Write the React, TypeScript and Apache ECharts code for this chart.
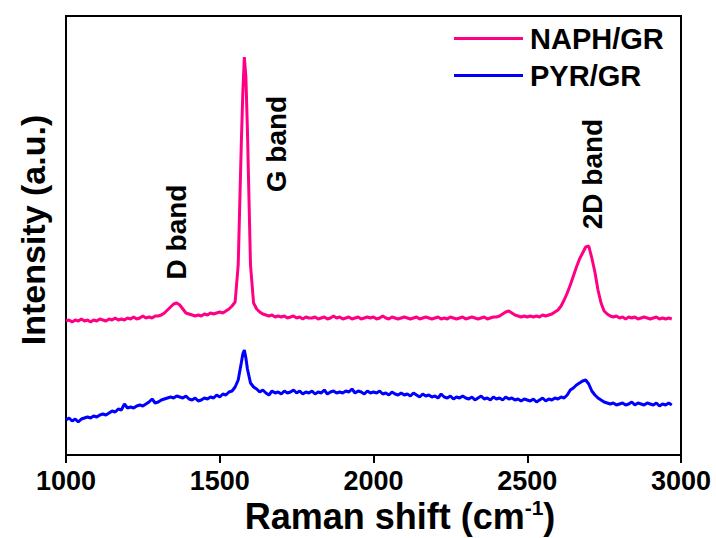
import React, { useEffect, useRef } from "react";
import * as echarts from "echarts";

// Raman shift sample positions (cm^-1)
const ramanShift: number[] = [
  1000, 1010, 1020, 1030, 1040, 1050, 1060, 1070, 1080, 1090,
  1100, 1110, 1120, 1130, 1140, 1150, 1160, 1170, 1180, 1190,
  1200, 1210, 1220, 1230, 1240, 1250, 1260, 1270, 1280, 1290,
  1300, 1310, 1320, 1330, 1340, 1350, 1360, 1370, 1380, 1390,
  1400, 1410, 1420, 1430, 1440, 1450, 1460, 1470, 1480, 1490,
  1500, 1510, 1520, 1530, 1540, 1550, 1560, 1570, 1575, 1580, 1585, 1590,
  1600, 1610, 1620, 1630, 1640, 1650, 1660, 1670, 1680, 1690,
  1700, 1710, 1720, 1730, 1740, 1750, 1760, 1770, 1780, 1790,
  1800, 1810, 1820, 1830, 1840, 1850, 1860, 1870, 1880, 1890,
  1900, 1910, 1920, 1930, 1940, 1950, 1960, 1970, 1980, 1990,
  2000, 2010, 2020, 2030, 2040, 2050, 2060, 2070, 2080, 2090,
  2100, 2110, 2120, 2130, 2140, 2150, 2160, 2170, 2180, 2190,
  2200, 2210, 2220, 2230, 2240, 2250, 2260, 2270, 2280, 2290,
  2300, 2310, 2320, 2330, 2340, 2350, 2360, 2370, 2380, 2390,
  2400, 2410, 2420, 2430, 2440, 2450, 2460, 2470, 2480, 2490,
  2500, 2510, 2520, 2530, 2540, 2550, 2560, 2570, 2580, 2590,
  2600, 2610, 2620, 2630, 2640, 2650, 2660, 2670, 2680, 2690,
  2700, 2710, 2720, 2730, 2740, 2750, 2760, 2770, 2780, 2790,
  2800, 2810, 2820, 2830, 2840, 2850, 2860, 2870, 2880, 2890,
  2900, 2910, 2920, 2930, 2940, 2950, 2960, 2970,
];

// NAPH/GR intensity (a.u.)
const naphGr: number[] = [
  134, 135, 133, 135, 134, 136, 134, 135, 133, 135,
  134, 136, 135, 134, 136, 135, 137, 135, 136, 135,
  137, 136, 138, 136, 137, 139, 137, 138, 137, 139,
  139, 140, 142, 145, 148, 151, 152, 150, 146, 142,
  141, 140, 139, 140, 139, 141, 140, 142, 141, 142,
  143, 142, 144, 146, 149, 153, 190, 310, 362, 398, 378, 325,
  190, 152, 146, 143, 141, 140, 139, 140, 138, 139,
  138, 139, 137, 138, 139, 137, 138, 136, 138, 137,
  137, 138, 136, 137, 138, 136, 137, 139, 137, 138,
  136, 137, 138, 136, 137, 138, 136, 137, 138, 137,
  138, 136, 137, 139, 137, 136, 138, 137, 136, 137,
  138, 137, 136, 137, 138, 136, 137, 138, 137, 136,
  137, 138, 136, 137, 136, 138, 137, 136, 137, 138,
  136, 137, 138, 137, 136, 137, 138, 136, 137, 138,
  138, 139, 141, 143, 144, 142, 140, 139, 138, 139,
  138, 139, 138, 139, 138, 140, 139, 140, 141, 143,
  145, 149, 155, 162, 170, 179, 188, 196, 202, 208,
  209, 197, 183, 165, 152, 144, 141, 139, 138, 139,
  137, 138, 136, 138, 137, 138, 136, 137, 138, 137,
  136, 137, 138, 136, 137, 136, 137, 136,
];

// PYR/GR intensity (a.u.)
const pyrGr: number[] = [
  35, 37, 34, 36, 33, 36, 37, 38, 37, 39,
  38, 40, 41, 40, 42, 44, 43, 46, 45, 51,
  47, 48, 47, 49, 50, 49, 51, 53, 56, 52,
  53, 55, 56, 57, 58, 57, 59, 58, 57, 59,
  56, 55, 57, 54, 55, 57, 56, 58, 57, 60,
  58, 61, 60, 63, 64, 68, 75, 92, 101, 105, 97, 86,
  72, 68, 66, 63, 65, 62, 60, 64, 62, 63,
  61, 64, 62, 63, 65, 62, 64, 61, 63, 62,
  64, 61, 63, 62, 65, 61, 63, 64, 62, 63,
  62, 64, 63, 66, 62, 64, 63, 61, 64, 62,
  63, 62, 64, 61, 62, 60, 63, 61, 60, 62,
  60, 61, 59, 62, 60, 58, 61, 59, 60, 58,
  59, 57, 61, 58, 57, 59, 56, 58, 57, 59,
  57, 56, 58, 55, 57, 59, 56, 57, 55, 58,
  56, 57, 55, 58, 56, 57, 55, 56, 54, 56,
  55, 54, 56, 53, 55, 57, 54, 56, 55, 57,
  56, 58, 57, 60, 65, 67, 70, 72, 74, 75,
  71, 64, 60, 57, 55, 53, 52, 51, 52, 50,
  51, 52, 50, 51, 53, 50, 52, 51, 50, 52,
  51, 50, 52, 49, 51, 50, 52, 50,
];

const seriesNames = ["NAPH/GR", "PYR/GR"];
const seriesColors = ["#ff0084", "#0000ff"];
const bandLabels = ["D band", "G band", "2D band"];

const FONT = "'Liberation Sans', Arial, Helvetica, sans-serif";

export default function App() {
  const ref = useRef<HTMLDivElement>(null);

  useEffect(() => {
    if (!ref.current) return;
    const chart = echarts.init(ref.current, undefined, { renderer: "svg" });
    const pairs = (ys: number[]) => ramanShift.map((x, i) => [x, ys[i]]);

    chart.setOption({
      animation: false,
      backgroundColor: "#ffffff",
      grid: {
        left: 66,
        right: 35,
        top: 16,
        bottom: 83,
        show: true,
        borderColor: "#000",
        borderWidth: 2,
        backgroundColor: "transparent",
      },
      legend: {
        orient: "vertical",
        left: 449,
        top: 19,
        itemWidth: 69,
        itemHeight: 3,
        itemGap: 8,
        icon: "rect",
        data: seriesNames,
        textStyle: {
          fontFamily: FONT,
          fontWeight: "bold",
          fontSize: 29,
          color: "#000",
          padding: [0, 0, 0, 2],
        },
      },
      xAxis: {
        type: "value",
        min: 1000,
        max: 3000,
        interval: 500,
        axisLine: { show: true, lineStyle: { color: "#000", width: 2 } },
        axisTick: { show: true, length: 8, inside: false, lineStyle: { color: "#000", width: 2 } },
        splitLine: { show: false },
        axisLabel: {
          color: "#000",
          fontFamily: FONT,
          fontWeight: "bold",
          fontSize: 27,
          margin: 12,
          formatter: (v: number) => String(v),
        },
      },
      yAxis: {
        type: "value",
        min: 0,
        max: 439,
        axisLine: { show: true, lineStyle: { color: "#000", width: 2 } },
        axisTick: { show: false },
        axisLabel: { show: false },
        splitLine: { show: false },
      },
      series: [
        {
          name: seriesNames[0],
          type: "line",
          data: pairs(naphGr),
          symbol: "none",
          color: seriesColors[0],
          lineStyle: { color: seriesColors[0], width: 3 },
        },
        {
          name: seriesNames[1],
          type: "line",
          data: pairs(pyrGr),
          symbol: "none",
          color: seriesColors[1],
          lineStyle: { color: seriesColors[1], width: 3 },
        },
      ],
      graphic: [
        {
          type: "text",
          x: 33,
          y: 230,
          rotation: Math.PI / 2,
          style: {
            text: "Intensity (a.u.)",
            fill: "#000",
            fontFamily: FONT,
            fontWeight: "bold",
            fontSize: 34,
            align: "center",
            verticalAlign: "middle",
          },
        },
        {
          type: "text",
          x: 400,
          y: 516,
          style: {
            text: "{a|Raman shift (cm}{b|-1}{a|)}",
            fill: "#000",
            align: "center",
            verticalAlign: "middle",
            rich: {
              a: { fontFamily: FONT, fontWeight: "bold", fontSize: 36, fill: "#000", lineHeight: 38 },
              b: { fontFamily: FONT, fontWeight: "bold", fontSize: 21, fill: "#000", verticalAlign: "top", lineHeight: 38 },
            },
          },
        },
        {
          type: "text",
          x: 176,
          y: 232,
          rotation: Math.PI / 2,
          style: {
            text: bandLabels[0],
            fill: "#000",
            fontFamily: FONT,
            fontWeight: "bold",
            fontSize: 28,
            align: "center",
            verticalAlign: "middle",
          },
        },
        {
          type: "text",
          x: 276,
          y: 144,
          rotation: Math.PI / 2,
          style: {
            text: bandLabels[1],
            fill: "#000",
            fontFamily: FONT,
            fontWeight: "bold",
            fontSize: 28,
            align: "center",
            verticalAlign: "middle",
          },
        },
        {
          type: "text",
          x: 592,
          y: 174,
          rotation: Math.PI / 2,
          style: {
            text: bandLabels[2],
            fill: "#000",
            fontFamily: FONT,
            fontWeight: "bold",
            fontSize: 28,
            align: "center",
            verticalAlign: "middle",
          },
        },
      ],
    });

    return () => chart.dispose();
  }, []);

  return (
    <div
      ref={ref}
      style={{ position: "fixed", left: 0, top: 0, width: 716, height: 538, background: "#fff" }}
    />
  );
}
